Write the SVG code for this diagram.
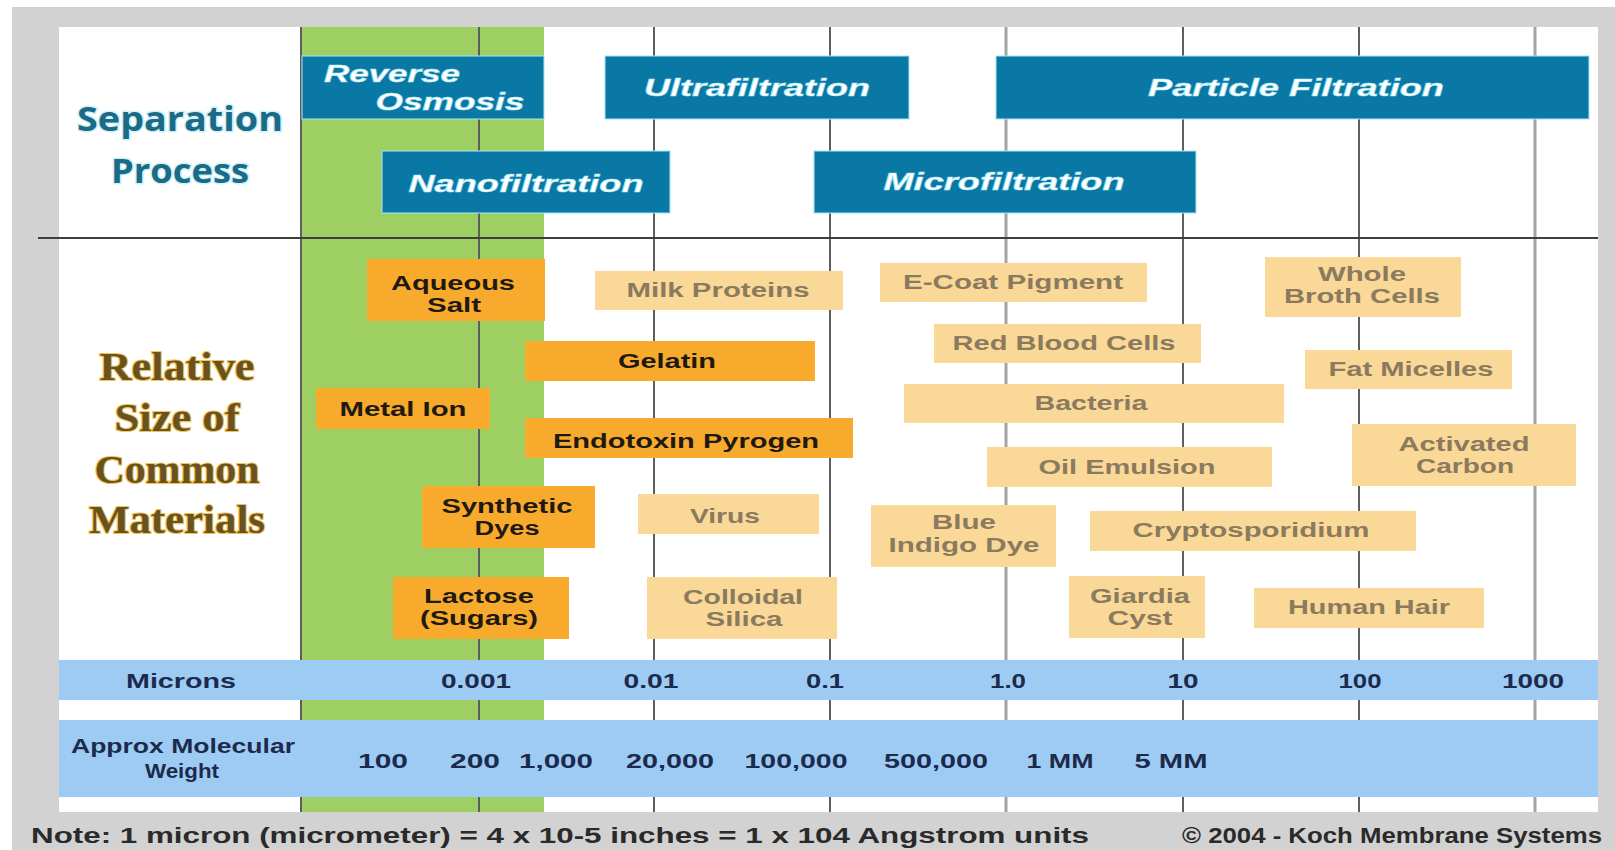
<svg xmlns="http://www.w3.org/2000/svg" width="1615" height="850" viewBox="0 0 1615 850">
<style>
.proc{fill:#0a78a5;stroke:#a6e2f2;stroke-width:1.5;stroke-opacity:0.7}
.ptxt{font-family:"Liberation Sans",Arial,sans-serif;font-weight:bold;font-style:italic;font-size:24px;fill:#ffffff;stroke:#9fe3f3;stroke-width:0.6;text-anchor:middle}
.dark{fill:#f8aa2c}
.lite{fill:#fad898}
.dtxt{font-family:"Liberation Sans",Arial,sans-serif;font-weight:bold;font-size:20px;fill:#1e1a12;text-anchor:middle}
.ltxt{font-family:"Liberation Sans",Arial,sans-serif;font-weight:bold;font-size:20px;fill:#8a7a5e;text-anchor:middle}
.band{fill:#9ecbf4}
.btxt{font-family:"Liberation Sans",Arial,sans-serif;font-weight:bold;font-size:21px;fill:#1c2b4c;text-anchor:middle}
.vl{stroke:#5e5e5e;stroke-width:2}
.vl2{stroke:#a4a4a4;stroke-width:3}
.sep{font-family:"Open Sans","Noto Sans",sans-serif;font-weight:bold;font-size:34px;fill:#1b6a86;stroke:#d2f2fa;stroke-width:3;paint-order:stroke;text-anchor:middle}
.rel{font-family:"Liberation Serif","Times New Roman",serif;font-weight:bold;font-size:40px;fill:#6a5220;stroke:#f0c45a;stroke-width:2.2;paint-order:stroke;text-anchor:middle}
.note{font-family:"Liberation Sans",Arial,sans-serif;font-weight:bold;font-size:22px;fill:#2a2a2a}
</style>
<rect x="0" y="0" width="1615" height="850" fill="#ffffff"/>
<rect x="12" y="7" width="1603" height="843" fill="#d2d2d2"/>
<rect x="59" y="27" width="1539" height="785" fill="#ffffff"/>
<rect x="301" y="27" width="243" height="785" fill="#9dcf62"/>
<g id="grid">
<line class="vl" x1="301" y1="27" x2="301" y2="812"/>
<line class="vl" x1="479" y1="27" x2="479" y2="812"/>
<line class="vl" x1="654" y1="27" x2="654" y2="812"/>
<line class="vl" x1="830" y1="27" x2="830" y2="812"/>
<line class="vl2" x1="1006" y1="27" x2="1006" y2="812"/>
<line class="vl" x1="1183" y1="27" x2="1183" y2="812"/>
<line class="vl" x1="1359" y1="27" x2="1359" y2="812"/>
<line class="vl2" x1="1535" y1="27" x2="1535" y2="812"/>
<line x1="38" y1="238" x2="1598" y2="238" stroke="#3e3e3e" stroke-width="2"/>
</g>
<g id="bands">
<rect class="band" x="59" y="660" width="1539" height="40"/>
<rect class="band" x="59" y="720" width="1539" height="77"/>
</g>
<g id="separation-title">
<text class="sep" x="180" y="131" textLength="206" lengthAdjust="spacingAndGlyphs">Separation</text>
<text class="sep" x="180" y="183" textLength="138" lengthAdjust="spacingAndGlyphs">Process</text>
</g>
<g id="materials-title">
<text class="rel" x="177" y="380" textLength="155" lengthAdjust="spacingAndGlyphs">Relative</text>
<text class="rel" x="177" y="431" textLength="125" lengthAdjust="spacingAndGlyphs">Size of</text>
<text class="rel" x="177" y="483" textLength="165" lengthAdjust="spacingAndGlyphs">Common</text>
<text class="rel" x="177" y="533" textLength="176" lengthAdjust="spacingAndGlyphs">Materials</text>
</g>
<g id="reverse-osmosis">
<rect class="proc" x="302" y="56" width="242" height="63"/>
<text class="ptxt" x="392" y="82" textLength="136" lengthAdjust="spacingAndGlyphs">Reverse</text>
<text class="ptxt" x="450" y="110" textLength="149" lengthAdjust="spacingAndGlyphs">Osmosis</text>
</g>
<g id="ultrafiltration">
<rect class="proc" x="605" y="56" width="304" height="63"/>
<text class="ptxt" x="757" y="96" textLength="226" lengthAdjust="spacingAndGlyphs">Ultrafiltration</text>
</g>
<g id="particle-filtration">
<rect class="proc" x="996" y="56" width="593" height="63"/>
<text class="ptxt" x="1296" y="96" textLength="296" lengthAdjust="spacingAndGlyphs">Particle Filtration</text>
</g>
<g id="nanofiltration">
<rect class="proc" x="382" y="151" width="288" height="62"/>
<text class="ptxt" x="526" y="192" textLength="235" lengthAdjust="spacingAndGlyphs">Nanofiltration</text>
</g>
<g id="microfiltration">
<rect class="proc" x="814" y="151" width="382" height="62"/>
<text class="ptxt" x="1004" y="190" textLength="241" lengthAdjust="spacingAndGlyphs">Microfiltration</text>
</g>
<g id="aqueous-salt"><rect class="dark" x="367" y="259" width="178" height="62"/>
<text class="dtxt" x="453" y="290" textLength="124" lengthAdjust="spacingAndGlyphs">Aqueous</text>
<text class="dtxt" x="454" y="312" textLength="54" lengthAdjust="spacingAndGlyphs">Salt</text></g>
<g id="milk-proteins"><rect class="lite" x="595" y="271" width="248" height="39"/>
<text class="ltxt" x="718" y="297" textLength="183" lengthAdjust="spacingAndGlyphs">Milk Proteins</text></g>
<g id="e-coat-pigment"><rect class="lite" x="880" y="263" width="267" height="39"/>
<text class="ltxt" x="1013" y="289" textLength="220" lengthAdjust="spacingAndGlyphs">E-Coat Pigment</text></g>
<g id="whole-broth-cells"><rect class="lite" x="1265" y="257" width="196" height="60"/>
<text class="ltxt" x="1362" y="281" textLength="88" lengthAdjust="spacingAndGlyphs">Whole</text>
<text class="ltxt" x="1362" y="303" textLength="156" lengthAdjust="spacingAndGlyphs">Broth Cells</text></g>
<g id="gelatin"><rect class="dark" x="525" y="341" width="290" height="40"/>
<text class="dtxt" x="667" y="368" textLength="98" lengthAdjust="spacingAndGlyphs">Gelatin</text></g>
<g id="red-blood-cells"><rect class="lite" x="934" y="324" width="267" height="39"/>
<text class="ltxt" x="1064" y="350" textLength="223" lengthAdjust="spacingAndGlyphs">Red Blood Cells</text></g>
<g id="fat-micelles"><rect class="lite" x="1305" y="350" width="207" height="39"/>
<text class="ltxt" x="1411" y="376" textLength="165" lengthAdjust="spacingAndGlyphs">Fat Micelles</text></g>
<g id="metal-ion"><rect class="dark" x="316" y="388" width="174" height="41"/>
<text class="dtxt" x="403" y="416" textLength="127" lengthAdjust="spacingAndGlyphs">Metal Ion</text></g>
<g id="bacteria"><rect class="lite" x="904" y="384" width="380" height="39"/>
<text class="ltxt" x="1091" y="410" textLength="113" lengthAdjust="spacingAndGlyphs">Bacteria</text></g>
<g id="endotoxin-pyrogen"><rect class="dark" x="525" y="418" width="328" height="40"/>
<text class="dtxt" x="686" y="448" textLength="266" lengthAdjust="spacingAndGlyphs">Endotoxin Pyrogen</text></g>
<g id="activated-carbon"><rect class="lite" x="1352" y="424" width="224" height="62"/>
<text class="ltxt" x="1464" y="451" textLength="131" lengthAdjust="spacingAndGlyphs">Activated</text>
<text class="ltxt" x="1465" y="473" textLength="98" lengthAdjust="spacingAndGlyphs">Carbon</text></g>
<g id="oil-emulsion"><rect class="lite" x="987" y="447" width="285" height="40"/>
<text class="ltxt" x="1127" y="474" textLength="177" lengthAdjust="spacingAndGlyphs">Oil Emulsion</text></g>
<g id="synthetic-dyes"><rect class="dark" x="422" y="486" width="173" height="62"/>
<text class="dtxt" x="507" y="513" textLength="131" lengthAdjust="spacingAndGlyphs">Synthetic</text>
<text class="dtxt" x="507" y="535" textLength="65" lengthAdjust="spacingAndGlyphs">Dyes</text></g>
<g id="virus"><rect class="lite" x="638" y="494" width="181" height="40"/>
<text class="ltxt" x="725" y="523" textLength="70" lengthAdjust="spacingAndGlyphs">Virus</text></g>
<g id="blue-indigo-dye"><rect class="lite" x="871" y="505" width="185" height="62"/>
<text class="ltxt" x="964" y="529" textLength="64" lengthAdjust="spacingAndGlyphs">Blue</text>
<text class="ltxt" x="964" y="552" textLength="151" lengthAdjust="spacingAndGlyphs">Indigo Dye</text></g>
<g id="cryptosporidium"><rect class="lite" x="1090" y="511" width="326" height="40"/>
<text class="ltxt" x="1251" y="537" textLength="237" lengthAdjust="spacingAndGlyphs">Cryptosporidium</text></g>
<g id="lactose-sugars"><rect class="dark" x="393" y="577" width="176" height="62"/>
<text class="dtxt" x="479" y="603" textLength="110" lengthAdjust="spacingAndGlyphs">Lactose</text>
<text class="dtxt" x="479" y="625" textLength="118" lengthAdjust="spacingAndGlyphs">(Sugars)</text></g>
<g id="colloidal-silica"><rect class="lite" x="647" y="577" width="190" height="62"/>
<text class="ltxt" x="743" y="604" textLength="120" lengthAdjust="spacingAndGlyphs">Colloidal</text>
<text class="ltxt" x="744" y="626" textLength="77" lengthAdjust="spacingAndGlyphs">Silica</text></g>
<g id="giardia-cyst"><rect class="lite" x="1069" y="576" width="136" height="62"/>
<text class="ltxt" x="1140" y="603" textLength="100" lengthAdjust="spacingAndGlyphs">Giardia</text>
<text class="ltxt" x="1140" y="625" textLength="65" lengthAdjust="spacingAndGlyphs">Cyst</text></g>
<g id="human-hair"><rect class="lite" x="1254" y="588" width="230" height="40"/>
<text class="ltxt" x="1369" y="614" textLength="162" lengthAdjust="spacingAndGlyphs">Human Hair</text></g>
<g id="microns-scale">
<text class="btxt" x="181" y="688" textLength="110" lengthAdjust="spacingAndGlyphs">Microns</text>
<text class="btxt" x="476" y="688" textLength="70" lengthAdjust="spacingAndGlyphs">0.001</text>
<text class="btxt" x="651" y="688" textLength="55" lengthAdjust="spacingAndGlyphs">0.01</text>
<text class="btxt" x="825" y="688" textLength="38" lengthAdjust="spacingAndGlyphs">0.1</text>
<text class="btxt" x="1008" y="688" textLength="36" lengthAdjust="spacingAndGlyphs">1.0</text>
<text class="btxt" x="1183" y="688" textLength="31" lengthAdjust="spacingAndGlyphs">10</text>
<text class="btxt" x="1360" y="688" textLength="43" lengthAdjust="spacingAndGlyphs">100</text>
<text class="btxt" x="1533" y="688" textLength="62" lengthAdjust="spacingAndGlyphs">1000</text>
</g>
<g id="mw-scale">
<text class="btxt" x="183" y="753" textLength="224" lengthAdjust="spacingAndGlyphs">Approx Molecular</text>
<text class="btxt" x="182" y="778" textLength="74" lengthAdjust="spacingAndGlyphs">Weight</text>
<text class="btxt" x="383" y="768" textLength="50" lengthAdjust="spacingAndGlyphs">100</text>
<text class="btxt" x="475" y="768" textLength="50" lengthAdjust="spacingAndGlyphs">200</text>
<text class="btxt" x="556" y="768" textLength="74" lengthAdjust="spacingAndGlyphs">1,000</text>
<text class="btxt" x="670" y="768" textLength="88" lengthAdjust="spacingAndGlyphs">20,000</text>
<text class="btxt" x="796" y="768" textLength="103" lengthAdjust="spacingAndGlyphs">100,000</text>
<text class="btxt" x="936" y="768" textLength="104" lengthAdjust="spacingAndGlyphs">500,000</text>
<text class="btxt" x="1060" y="768" textLength="67" lengthAdjust="spacingAndGlyphs">1 MM</text>
<text class="btxt" x="1171" y="768" textLength="73" lengthAdjust="spacingAndGlyphs">5 MM</text>
</g>
<g id="footer">
<text class="note" x="31" y="843" textLength="1058" lengthAdjust="spacingAndGlyphs">Note: 1 micron (micrometer) = 4 x 10-5 inches = 1 x 104 Angstrom units</text>
<text class="note" x="1182" y="843" textLength="420" lengthAdjust="spacingAndGlyphs">© 2004 - Koch Membrane Systems</text>
</g>
</svg>
